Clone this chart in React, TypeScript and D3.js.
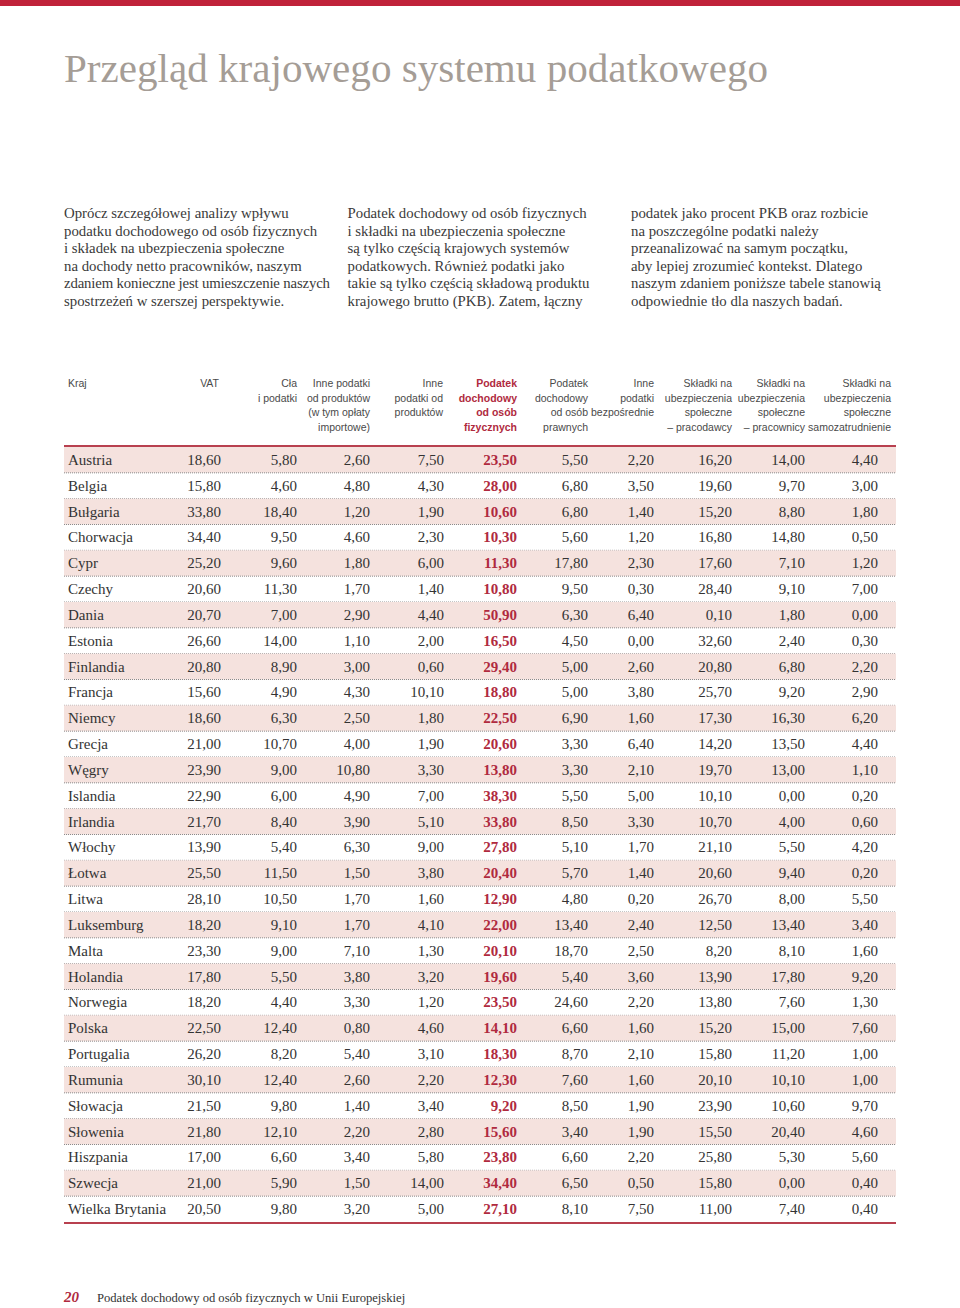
import React from "react";
import * as d3 from "d3";

const countries = ["Austria","Belgia","Bułgaria","Chorwacja","Cypr","Czechy","Dania","Estonia","Finlandia","Francja","Niemcy","Grecja","Węgry","Islandia","Irlandia","Włochy","Łotwa","Litwa","Luksemburg","Malta","Holandia","Norwegia","Polska","Portugalia","Rumunia","Słowacja","Słowenia","Hiszpania","Szwecja","Wielka Brytania"];

const vat = [18.6,15.8,33.8,34.4,25.2,20.6,20.7,26.6,20.8,15.6,18.6,21.0,23.9,22.9,21.7,13.9,25.5,28.1,18.2,23.3,17.8,18.2,22.5,26.2,30.1,21.5,21.8,17.0,21.0,20.5];
const cla = [5.8,4.6,18.4,9.5,9.6,11.3,7.0,14.0,8.9,4.9,6.3,10.7,9.0,6.0,8.4,5.4,11.5,10.5,9.1,9.0,5.5,4.4,12.4,8.2,12.4,9.8,12.1,6.6,5.9,9.8];
const inneProdImport = [2.6,4.8,1.2,4.6,1.8,1.7,2.9,1.1,3.0,4.3,2.5,4.0,10.8,4.9,3.9,6.3,1.5,1.7,1.7,7.1,3.8,3.3,0.8,5.4,2.6,1.4,2.2,3.4,1.5,3.2];
const inneProd = [7.5,4.3,1.9,2.3,6.0,1.4,4.4,2.0,0.6,10.1,1.8,1.9,3.3,7.0,5.1,9.0,3.8,1.6,4.1,1.3,3.2,1.2,4.6,3.1,2.2,3.4,2.8,5.8,14.0,5.0];
const pit = [23.5,28.0,10.6,10.3,11.3,10.8,50.9,16.5,29.4,18.8,22.5,20.6,13.8,38.3,33.8,27.8,20.4,12.9,22.0,20.1,19.6,23.5,14.1,18.3,12.3,9.2,15.6,23.8,34.4,27.1];
const cit = [5.5,6.8,6.8,5.6,17.8,9.5,6.3,4.5,5.0,5.0,6.9,3.3,3.3,5.5,8.5,5.1,5.7,4.8,13.4,18.7,5.4,24.6,6.6,8.7,7.6,8.5,3.4,6.6,6.5,8.1];
const inneBezp = [2.2,3.5,1.4,1.2,2.3,0.3,6.4,0.0,2.6,3.8,1.6,6.4,2.1,5.0,3.3,1.7,1.4,0.2,2.4,2.5,3.6,2.2,1.6,2.1,1.6,1.9,1.9,2.2,0.5,7.5];
const pracodawcy = [16.2,19.6,15.2,16.8,17.6,28.4,0.1,32.6,20.8,25.7,17.3,14.2,19.7,10.1,10.7,21.1,20.6,26.7,12.5,8.2,13.9,13.8,15.2,15.8,20.1,23.9,15.5,25.8,15.8,11.0];
const pracownicy = [14.0,9.7,8.8,14.8,7.1,9.1,1.8,2.4,6.8,9.2,16.3,13.5,13.0,0.0,4.0,5.5,9.4,8.0,13.4,8.1,17.8,7.6,15.0,11.2,10.1,10.6,20.4,5.3,0.0,7.4];
const samozatrudnienie = [4.4,3.0,1.8,0.5,1.2,7.0,0.0,0.3,2.2,2.9,6.2,4.4,1.1,0.2,0.6,4.2,0.2,5.5,3.4,1.6,9.2,1.3,7.6,1.0,1.0,9.7,4.6,5.6,0.4,0.4];

const headers: string[][] = [
  ["VAT"],
  ["Cła", "i podatki"],
  ["Inne podatki", "od produktów", "(w tym opłaty", "importowe)"],
  ["Inne", "podatki od", "produktów"],
  ["Podatek", "dochodowy", "od osób", "fizycznych"],
  ["Podatek", "dochodowy", "od osób", "prawnych"],
  ["Inne", "podatki", "bezpośrednie"],
  ["Składki na", "ubezpieczenia", "społeczne", "– pracodawcy"],
  ["Składki na", "ubezpieczenia", "społeczne", "– pracownicy"],
  ["Składki na", "ubezpieczenia", "społeczne", "samozatrudnienie"],
];
const series = [vat, cla, inneProdImport, inneProd, pit, cit, inneBezp, pracodawcy, pracownicy, samozatrudnienie];
const highlightCol = 4;

const title = "Przegląd krajowego systemu podatkowego";
const paragraphs: string[][] = [
  ["Oprócz szczegółowej analizy wpływu", "podatku dochodowego od osób fizycznych", "i składek na ubezpieczenia społeczne", "na dochody netto pracowników, naszym", "zdaniem konieczne jest umieszczenie naszych", "spostrzeżeń w szerszej perspektywie."],
  ["Podatek dochodowy od osób fizycznych", "i składki na ubezpieczenia społeczne", "są tylko częścią krajowych systemów", "podatkowych. Również podatki jako", "takie są tylko częścią składową produktu", "krajowego brutto (PKB). Zatem, łączny"],
  ["podatek jako procent PKB oraz rozbicie", "na poszczególne podatki należy", "przeanalizować na samym początku,", "aby lepiej zrozumieć kontekst. Dlatego", "naszym zdaniem poniższe tabele stanowią", "odpowiednie tło dla naszych badań."],
];
const footerNum = "20";
const footerText = "Podatek dochodowy od osób fizycznych w Unii Europejskiej";

// layout
const W = 960, H = 1308;
const tableLeft = 64, tableRight = 896;
const colRight = [221, 297, 370, 444, 517, 588, 654, 732, 805, 878];
const headRight = [219, 297, 370, 443, 517, 588, 654, 732, 805, 891];
const paraMaxWidth = 266;
const RED = "#b8404f";
const SERIF = "'Liberation Serif', 'Times New Roman', serif";
const SANS = "'Liberation Sans', Arial, sans-serif";

const fmt = (v: number) => d3.format(".2f")(v).replace(".", ",");

function ParaLine({ x, y, text }: { x: number; y: number; text: string }) {
  const ref = React.useRef<SVGTextElement>(null);
  React.useLayoutEffect(() => {
    const el = ref.current;
    if (el && el.getComputedTextLength() > paraMaxWidth) {
      el.setAttribute("textLength", String(paraMaxWidth));
      el.setAttribute("lengthAdjust", "spacing");
    }
  }, [text]);
  return <text ref={ref} x={x} y={y} fontFamily={SERIF} fontSize={14.8} fill="#3a3a3a">{text}</text>;
}

export default function App() {
  const y = d3.scaleBand<string>().domain(countries).range([447, 1222]).paddingInner(0);
  const colX = d3.scaleOrdinal<number, number>().domain(d3.range(series.length)).range(colRight);
  const headX = d3.scaleOrdinal<number, number>().domain(d3.range(series.length)).range(headRight);
  const paraX = d3.scalePoint<number>().domain([0, 1, 2]).range([64, 631]);
  const paraY = d3.scaleLinear().domain([0, 1]).range([218, 235.6]);
  const headY = d3.scaleLinear().domain([0, 1]).range([387, 401.5]);
  const bw = y.bandwidth();

  return (
    <svg width={W} height={H} style={{ position: "absolute", left: 0, top: 0, background: "#fff" }}>
      <rect x={0} y={0} width={W} height={6} fill="#c0223a" />
      <text x={64} y={82} fontFamily={SERIF} fontSize={41} fill="#a59d96" textLength={704} lengthAdjust="spacingAndGlyphs">{title}</text>

      {paragraphs.map((p, i) => (
        <g key={i}>
          {p.map((line, j) => (
            <ParaLine key={j} x={paraX(i)!} y={paraY(j)} text={line} />
          ))}
        </g>
      ))}

      {/* header */}
      <text x={68} y={headY(0)} fontFamily={SANS} fontSize={10.5} fill="#4a4a4a">Kraj</text>
      {headers.map((h, i) => (
        <g key={i}>
          {h.map((line, j) => (
            <text key={j} x={headX(i)} y={headY(j)} textAnchor="end" fontFamily={SANS} fontSize={10.5}
              fill={i === highlightCol ? "#b02a3e" : "#4a4a4a"} fontWeight={i === highlightCol ? 700 : 400}>{line}</text>
          ))}
        </g>
      ))}

      {/* rows */}
      {countries.map((c, r) => (
        <g key={c}>
          {r % 2 === 0 && <rect x={tableLeft} y={y(c)!} width={tableRight - tableLeft} height={bw} fill="#f5e2de" />}
          {r < countries.length - 1 && (
            <line x1={tableLeft} x2={tableRight} y1={y(c)! + bw} y2={y(c)! + bw} stroke="#8a8a8a" strokeWidth={1} strokeDasharray="1,1" />
          )}
          <text x={68} y={y(c)! + bw / 2 + 5} fontFamily={SERIF} fontSize={15} fill="#333">{c}</text>
          {series.map((s, i) => (
            <text key={i} x={colX(i)} y={y(c)! + bw / 2 + 5} textAnchor="end" fontFamily={SERIF} fontSize={15}
              fill={i === highlightCol ? "#b02a3e" : "#333"} fontWeight={i === highlightCol ? 700 : 400}>{fmt(s[r])}</text>
          ))}
        </g>
      ))}
      <line x1={tableLeft} x2={tableRight} y1={446} y2={446} stroke={RED} strokeWidth={2} />
      <line x1={tableLeft} x2={tableRight} y1={1223} y2={1223} stroke={RED} strokeWidth={2} />

      {/* footer */}
      <text x={64} y={1302} fontFamily={SERIF} fontSize={15} fontStyle="italic" fontWeight={700} fill="#b02a3e">{footerNum}</text>
      <text x={97} y={1302} fontFamily={SERIF} fontSize={12.6} fill="#333">{footerText}</text>
    </svg>
  );
}
